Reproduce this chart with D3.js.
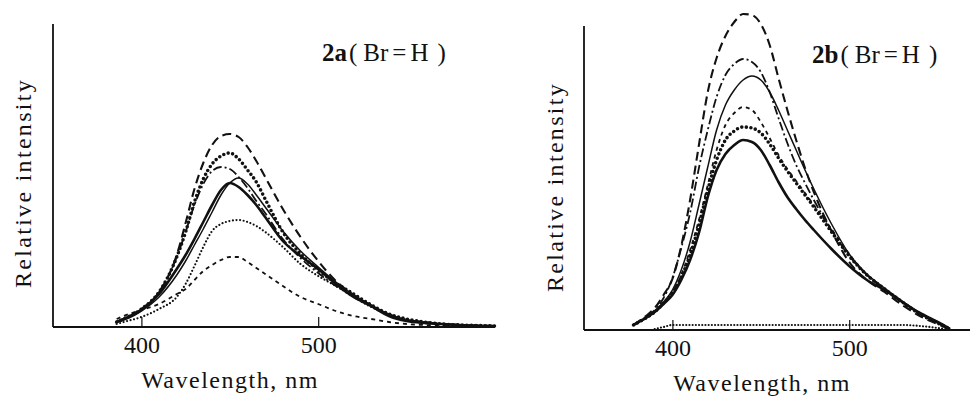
<!DOCTYPE html>
<html>
<head>
<meta charset="utf-8">
<script src="https://cdn.jsdelivr.net/npm/d3@7"></script>
<style>
  body { margin: 0; background: #fff; }
  svg { display: block; }
  text { font-family: "Liberation Serif", "DejaVu Serif", serif; fill: #111; }
</style>
</head>
<body>
<div id="chart"></div>
<script>
// wavelength grid (nm) and relative intensities
var wlA = [386, 390, 400, 410, 420, 425, 430, 435, 440, 445, 450, 455, 460, 465, 470, 480, 490, 500, 510, 520, 530, 540, 550, 560, 570, 580, 590, 600];
var aLongDash  = [5, 8, 18, 35, 72, 104, 138, 164, 182, 191, 193, 190, 180, 166, 150, 118, 90, 66, 46, 32, 21, 12, 7, 5, 3, 2, 1.5, 1];
var aBoldDot   = [5, 8, 18, 35, 70, 95, 125, 148, 163, 171, 174, 168, 157, 145, 128, 95, 73, 57, 44, 33, 22, 13, 8, 5, 3, 2, 1.5, 1];
var aDashDot   = [5, 8, 18, 35, 70, 95, 122, 143, 156, 160, 158, 150, 139, 126, 114, 88, 69, 54, 41, 31, 21, 12, 7, 5, 3, 2, 1.5, 1];
var aThinSolid = [5, 7, 16, 30, 52, 66, 82, 98, 115, 132, 144, 149, 143, 132, 120, 96, 76, 60, 45, 32, 22, 13, 7, 4, 3, 2, 1, 1];
var aThickSolid= [5, 8, 17, 33, 58, 72, 88, 105, 122, 137, 144, 140, 132, 122, 110, 86, 71, 58, 43, 30, 21, 11, 6, 4, 3, 2, 1, 1];
var aFineDot   = [3, 5, 10, 18, 30, 43, 61, 80, 96, 103, 106, 107, 105, 101, 95, 80, 63, 51, 41, 30, 20, 12, 7, 4, 3, 2, 1, 1];
var aShortDash = [8, 11, 17, 23, 33, 38, 47, 56, 62, 67, 70, 70, 65, 59, 53, 41, 30, 23, 16, 11, 8, 5, 3, 2, 1, 1, 1, 1];

var wlB = [378, 385, 390, 395, 400, 405, 410, 415, 420, 425, 430, 435, 440, 445, 450, 455, 460, 465, 470, 475, 480, 490, 500, 510, 520, 530, 540, 550, 557];
var bLongDash  = [5, 14, 22, 35, 51, 84, 130, 185, 238, 272, 294, 308, 316, 315, 306, 285, 252, 220, 190, 162, 138, 99, 68, 50, 38, 25, 14, 6, 1];
var bDashDot   = [5, 13, 20, 32, 52, 82, 117, 162, 200, 233, 255, 266, 271, 268, 258, 238, 212, 187, 165, 147, 130, 100, 74, 55, 41, 28, 16, 7, 1];
var bThinSolid = [5, 13, 19, 28, 40, 60, 88, 125, 163, 200, 225, 240, 250, 254, 250, 238, 220, 200, 180, 160, 141, 106, 76, 56, 42, 29, 17, 8, 1];
var bShortDash = [5, 12, 18, 27, 38, 55, 80, 110, 145, 180, 205, 217, 223, 220, 208, 192, 175, 161, 149, 137, 125, 101, 76, 55, 41, 28, 16, 7, 1];
var bBoldDot   = [5, 12, 18, 27, 37, 53, 75, 105, 140, 170, 190, 199, 203, 202, 197, 186, 172, 159, 147, 135, 123, 98, 74, 55, 41, 28, 16, 7, 1];
var bThickSolid= [5, 12, 18, 26, 35, 50, 70, 97, 133, 160, 176, 185, 190, 188, 180, 165, 148, 133, 121, 110, 100, 81, 64, 50, 40, 28, 17, 8, 1];
var bFlatDot   = [null, null, 1, 3, 5, 5, 5, 5, 5, 5, 5, 5, 5, 5, 5, 5, 5, 5, 5, 5, 5, 5, 5, 5, 5, 5, 4, 2, 0];

var xTicks = [400, 500];
var xDomain = [350, 600];
var yDomain = [0, 300];

// line looks
var styles = {
  longDash:   { w: 2.1, dash: "9,5",      cap: "butt" },
  boldDot:    { w: 3.6, dash: "0,4.6",    cap: "round" },
  dashDot:    { w: 1.8, dash: "9,3,2,3",  cap: "butt" },
  thinSolid:  { w: 1.5, dash: null,       cap: "butt" },
  thickSolid: { w: 2.6, dash: null,       cap: "butt" },
  fineDot:    { w: 2.2, dash: "0,3.6",    cap: "round" },
  shortDash:  { w: 1.8, dash: "4,4",      cap: "butt" },
  flatDot:    { w: 2.2, dash: "0,3.2",    cap: "round" }
};

var panels = [
  { title: "2a", left: 53, right: 495, base: 327, top: 24, wl: wlA,
    titleX: 322, titleY: 61, yLabX: 31, yLabY: 183, xLabX: 230, xLabY: 388, tickY: 353,
    series: [["shortDash", aShortDash], ["fineDot", aFineDot], ["thickSolid", aThickSolid], ["thinSolid", aThinSolid],
             ["dashDot", aDashDot], ["boldDot", aBoldDot], ["longDash", aLongDash]] },
  { title: "2b", left: 584, right: 970, base: 330, top: 26, wl: wlB,
    titleX: 812, titleY: 63, yLabX: 563, yLabY: 187, xLabX: 762, xLabY: 391, tickY: 356,
    series: [["flatDot", bFlatDot], ["thickSolid", bThickSolid], ["boldDot", bBoldDot], ["shortDash", bShortDash],
             ["thinSolid", bThinSolid], ["dashDot", bDashDot], ["longDash", bLongDash]] }
];

var wd = 970, ht = 398;
var svg = d3.select("#chart").append("svg").attr("width", wd).attr("height", ht);

panels.forEach(function(p) {
  var xScale = d3.scaleLinear().domain(xDomain).range([p.left, p.left + 442]);
  var yScale = d3.scaleLinear().domain(yDomain).range([p.base, p.base - 300]);
  var g = svg.append("g");

  // curves
  p.series.forEach(function(s) {
    var st = styles[s[0]];
    var vals = s[1];
    var line = d3.line()
      .defined(function(d, i) { return vals[i] != null; })
      .x(function(d, i) { return xScale(p.wl[i]); })
      .y(function(d, i) { return yScale(vals[i]); })
      .curve(d3.curveMonotoneX);
    g.append("path")
      .attr("d", line(vals))
      .attr("fill", "none")
      .attr("stroke", "#111")
      .attr("stroke-width", st.w)
      .attr("stroke-linecap", st.cap)
      .attr("stroke-dasharray", st.dash);
  });

  // axes
  var xAxis = d3.axisBottom(xScale).tickValues(xTicks).tickSize(-10).tickFormat(d3.format("d"));
  var ax = g.append("g").attr("transform", "translate(0," + p.base + ")").call(xAxis);
  ax.select(".domain").remove();
  ax.selectAll(".tick line").attr("stroke", "#111").attr("stroke-width", 1.2);
  ax.selectAll(".tick text").attr("font-size", 24).attr("fill", "#111")
    .attr("font-family", "Liberation Serif, serif")
    .attr("dy", null).attr("y", p.tickY - p.base);
  g.append("line").attr("x1", p.left).attr("x2", p.right).attr("y1", p.base).attr("y2", p.base)
    .attr("stroke", "#111").attr("stroke-width", 2.2);
  g.append("line").attr("x1", p.left).attr("x2", p.left).attr("y1", p.top).attr("y2", p.base)
    .attr("stroke", "#111").attr("stroke-width", 1.8);

  // labels
  g.append("text").attr("x", p.xLabX).attr("y", p.xLabY).attr("text-anchor", "middle")
    .attr("font-size", 24).attr("letter-spacing", 1.5).text("Wavelength,  nm");
  g.append("text").attr("transform", "translate(" + p.yLabX + "," + p.yLabY + ") rotate(-90)")
    .attr("text-anchor", "middle").attr("font-size", 24).attr("letter-spacing", 2.3).text("Relative intensity");
  var t = g.append("text").attr("x", p.titleX).attr("y", p.titleY).attr("font-size", 25);
  t.append("tspan").attr("font-weight", "bold").text(p.title);
  t.append("tspan").attr("dx", 2).text("(");
  t.append("tspan").attr("dx", 6).text("Br");
  t.append("tspan").attr("dx", 4).attr("letter-spacing", 0).text("=");
  t.append("tspan").attr("dx", 4).text("H");
  t.append("tspan").attr("dx", 9).text(")");
});
</script>
</body>
</html>
